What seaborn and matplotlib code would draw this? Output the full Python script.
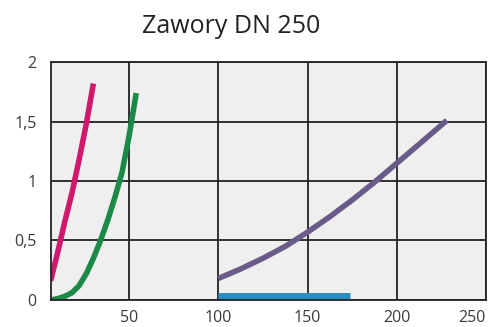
import numpy as np
import pandas as pd
import matplotlib
matplotlib.use('Agg')
import matplotlib.pyplot as plt
import seaborn as sns

# flow (x) vs pressure loss (y)
pink_x = [6, 10, 14, 18, 22, 26, 30]
pink_y = [0.16, 0.40, 0.66, 0.90, 1.18, 1.48, 1.82]

green_x = [6, 10, 14, 18, 22, 26, 30, 34, 38, 42, 46, 50, 54]
green_y = [0.0, 0.01, 0.03, 0.06, 0.12, 0.22, 0.35, 0.5, 0.67, 0.86, 1.07, 1.38, 1.74]

purple_x = [100, 112.5, 125, 137.5, 150, 162.5, 175, 187.5, 200, 212.5, 228]
purple_y = [0.18, 0.26, 0.35, 0.45, 0.57, 0.70, 0.84, 0.99, 1.15, 1.31, 1.51]

blue_x = [100, 174]
blue_y = [0.035, 0.035]

series = [
    (pink_x, pink_y, '#d0186c', 4),
    (green_x, green_y, '#1b8a47', 4),
    (purple_x, purple_y, '#6b5b88', 4),
    (blue_x, blue_y, '#2690c2', 5),
]

yticks = [0, 0.5, 1, 1.5, 2]
ytick_labels = ['0', '0,5', '1', '1,5', '2']
xticks = [50, 100, 150, 200, 250]

sns.set_style('white')
plt.rcParams['font.family'] = ['Open Sans', 'DejaVu Sans']

fig = plt.figure(figsize=(4.91, 3.27), dpi=100)
ax = fig.add_axes([0.103, 0.083, 0.887, 0.727])
ax.set_facecolor('#efefef')

for xs, ys, c, lw in series:
    df = pd.DataFrame({'x': xs, 'y': ys})
    sns.lineplot(data=df, x='x', y='y', ax=ax, color=c, linewidth=lw,
                 sort=False, solid_capstyle='butt', solid_joinstyle='round')

ax.set_xlim(6, 250)
ax.set_ylim(0, 2)
ax.set_xticks(xticks)
ax.set_yticks(yticks)
ax.set_yticklabels(ytick_labels)
ax.grid(True, color='#222222', linewidth=1.3)
ax.set_axisbelow(True)
for s in ax.spines.values():
    s.set_color('#222222')
    s.set_linewidth(1.3)
ax.tick_params(length=0, labelsize=11.5, colors='#3a3a3a')
ax.tick_params(axis='y', pad=10)
ax.tick_params(axis='x', pad=7)
ax.get_xticklabels()[-1].set_horizontalalignment('right')
ax.set_xlabel('')
ax.set_ylabel('')

fig.text(0.47, 0.899, 'Zawory DN 250', ha='center', va='baseline',
         fontsize=18, color='#222222')

fig.savefig('out.png', dpi=100)
